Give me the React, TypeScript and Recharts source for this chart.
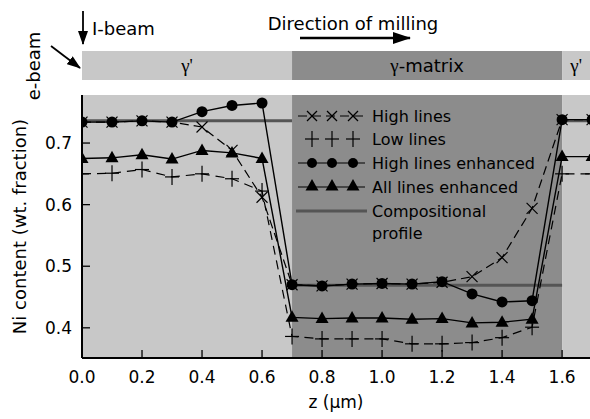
import React from "react";
import { ComposedChart, BarChart, Bar, Line, XAxis, YAxis, ReferenceArea, Legend } from "recharts";

// depth along milling direction (µm)
const zValues = [0, 0.1, 0.2, 0.3, 0.4, 0.5, 0.6, 0.7, 0.8, 0.9, 1.0, 1.1, 1.2, 1.3, 1.4, 1.5, 1.6, 1.7];

// Ni content (wt. fraction)
const highLines = [0.734, 0.734, 0.736, 0.734, 0.726, 0.688, 0.612, 0.47, 0.468, 0.471, 0.472, 0.471, 0.474, 0.483, 0.514, 0.594, 0.738, 0.738];
const lowLines = [0.65, 0.651, 0.657, 0.645, 0.65, 0.642, 0.622, 0.386, 0.382, 0.382, 0.382, 0.374, 0.374, 0.376, 0.384, 0.401, 0.65, 0.65];
const highEnhanced = [0.734, 0.734, 0.736, 0.734, 0.751, 0.761, 0.765, 0.47, 0.468, 0.471, 0.472, 0.471, 0.475, 0.455, 0.442, 0.444, 0.738, 0.738];
const allEnhanced = [0.675, 0.676, 0.681, 0.674, 0.688, 0.684, 0.675, 0.417, 0.415, 0.416, 0.416, 0.414, 0.415, 0.408, 0.409, 0.414, 0.678, 0.678];

// compositional profile: three flat segments (nulls break the line)
const profileZ = [0, 0.7, 0.7, 0.7, 1.6, 1.6, 1.6, 1.7];
const profileNi = [0.736, 0.736, null, 0.469, 0.469, null, 0.736, 0.736];

// phases along z
const phaseStart = [0, 0.7, 1.6];
const phaseEnd = [0.7, 1.6, 1.7];
const phaseLabels = ["γ'", "γ-matrix", "γ'"];
const phaseFills = ["#c8c8c8", "#8c8c8c", "#c8c8c8"];

const xTicks = [0, 0.2, 0.4, 0.6, 0.8, 1.0, 1.2, 1.4, 1.6];
const yTicks = [0.4, 0.5, 0.6, 0.7];

const X_DOMAIN: [number, number] = [0, 1.693];
const FONT = "'DejaVu Sans', Verdana, sans-serif";
const SERIF = "'Liberation Serif', 'DejaVu Serif', serif";

const toRows = (ys: number[]) => zValues.map((z, i) => ({ z, ni: ys[i] }));

const phaseRow: Record<string, any> = { band: "phase" };
phaseLabels.forEach((_, i) => {
  phaseRow["p" + i] = phaseEnd[i] - phaseStart[i];
});

const XMark = ({ cx, cy, s = 5.5 }: any) => (
  <g stroke="#000" strokeWidth={1.2}>
    <line x1={cx - s} y1={cy - s} x2={cx + s} y2={cy + s} />
    <line x1={cx - s} y1={cy + s} x2={cx + s} y2={cy - s} />
  </g>
);

const PlusMark = ({ cx, cy }: any) => (
  <g stroke="#000" strokeWidth={1.2}>
    <line x1={cx - 7} y1={cy} x2={cx + 7} y2={cy} />
    <line x1={cx} y1={cy - 8} x2={cx} y2={cy + 8} />
  </g>
);

const Triangle = ({ cx, cy }: any) => (
  <polygon points={`${cx},${cy - 7} ${cx - 6.5},${cy + 4.5} ${cx + 6.5},${cy + 4.5}`} fill="#000" />
);

const dotX = (p: any) => (p.cx == null ? <g key={p.index} /> : <XMark key={p.index} cx={p.cx} cy={p.cy} />);
const dotPlus = (p: any) => (p.cx == null ? <g key={p.index} /> : <PlusMark key={p.index} cx={p.cx} cy={p.cy} />);
const dotTri = (p: any) => (p.cx == null ? <g key={p.index} /> : <Triangle key={p.index} cx={p.cx} cy={p.cy} />);
const dotCircle = (p: any) => <circle key={p.index} cx={p.cx} cy={p.cy} r={5.5} fill="#000" />;

function LegendBox() {
  const rows = [116, 139, 163, 187];
  const marks = [312, 332, 353];
  return (
    <svg width={290} height={145} style={{ display: "block" }}>
      <g transform="translate(-294,-100)" fontFamily={FONT} fontSize={16} fill="#000">
        {/* High lines */}
        <line x1={298} x2={365} y1={rows[0]} y2={rows[0]} stroke="#000" strokeWidth={1.2} strokeDasharray="9 5" />
        {marks.map((m) => <XMark key={m} cx={m} cy={rows[0]} s={5} />)}
        <text x={372} y={rows[0] + 6}>High lines</text>
        {/* Low lines */}
        {marks.map((m) => <PlusMark key={m} cx={m} cy={rows[1]} />)}
        <text x={372} y={rows[1] + 6}>Low lines</text>
        {/* High lines enhanced */}
        <line x1={298} x2={365} y1={rows[2]} y2={rows[2]} stroke="#000" strokeWidth={1.2} />
        {marks.map((m) => <circle key={m} cx={m} cy={rows[2]} r={5} fill="#000" />)}
        <text x={372} y={rows[2] + 6}>High lines enhanced</text>
        {/* All lines enhanced */}
        <line x1={298} x2={365} y1={rows[3]} y2={rows[3]} stroke="#000" strokeWidth={1.2} />
        {marks.map((m) => <Triangle key={m} cx={m} cy={rows[3] - 1} />)}
        <text x={372} y={rows[3] + 6}>All lines enhanced</text>
        {/* Compositional profile */}
        <line x1={296} x2={367} y1={211} y2={211} stroke="#555" strokeWidth={3} />
        <text x={372} y={217}>Compositional</text>
        <text x={372} y={239}>profile</text>
      </g>
    </svg>
  );
}

const phaseLabel = (label: string) => (props: any) => {
  const { x, y, width, height } = props;
  const rest = label.slice(1);
  return (
    <text x={x + width / 2} y={y + height / 2 + 6} textAnchor="middle" fontSize={18} fill="#000">
      <tspan fontFamily={SERIF} fontSize={19}>γ</tspan>
      <tspan fontFamily={rest === "'" ? SERIF : FONT}>{rest}</tspan>
    </text>
  );
};

function Annotations() {
  return (
    <svg width={590} height={419} style={{ position: "absolute", left: 0, top: 0, pointerEvents: "none" }}>
      <defs>
        <marker id="head" viewBox="0 0 14 10" refX="13" refY="5" markerWidth="14" markerHeight="10" markerUnits="userSpaceOnUse" orient="auto">
          <path d="M0,0 L14,5 L0,10 Z" fill="#000" />
        </marker>
        <marker id="bighead" viewBox="0 0 18 12" refX="17" refY="6" markerWidth="18" markerHeight="12" markerUnits="userSpaceOnUse" orient="auto">
          <path d="M0,0 L18,6 L0,12 Z" fill="#000" />
        </marker>
      </defs>
      <g fontFamily={FONT} fontSize={18} fill="#000">
        <line x1={83} y1={11} x2={83} y2={44} stroke="#000" strokeWidth={1.8} markerEnd="url(#head)" />
        <text x={92} y={35}>I-beam</text>
        <line x1={51} y1={46} x2={80} y2={68} stroke="#000" strokeWidth={1.8} markerEnd="url(#head)" />
        <text transform="translate(40,66) rotate(-90)" textAnchor="middle">e-beam</text>
        <text x={353} y={30} textAnchor="middle">Direction of milling</text>
        <line x1={300} y1={38} x2={410} y2={38} stroke="#000" strokeWidth={2.5} markerEnd="url(#bighead)" />
      </g>
    </svg>
  );
}

export default function App() {
  return (
    <div style={{ position: "absolute", left: 0, top: 0, width: 590, height: 419, background: "#fff", fontFamily: FONT }}>
      <div style={{ position: "absolute", left: 0, top: 51 }}>
        <BarChart
          width={590}
          height={29}
          layout="vertical"
          data={[phaseRow]}
          barCategoryGap={0}
          margin={{ top: 0, right: 0, bottom: 0, left: 82 }}
        >
          <XAxis type="number" domain={X_DOMAIN} allowDataOverflow hide />
          <YAxis type="category" dataKey="band" hide />
          {phaseLabels.map((label, i) => (
            <Bar
              key={i}
              dataKey={"p" + i}
              stackId="phase"
              fill={phaseFills[i]}
              isAnimationActive={false}
              label={phaseLabel(label)}
            />
          ))}
        </BarChart>
      </div>
      <div style={{ position: "absolute", left: 0, top: 0 }}>
        <ComposedChart width={590} height={419} margin={{ top: 95, right: 0, bottom: 0, left: 0 }}>
          <XAxis
            type="number"
            dataKey="z"
            domain={X_DOMAIN}
            allowDataOverflow
            ticks={xTicks}
            tickFormatter={(v: number) => v.toFixed(1)}
            height={61}
            tickSize={-8}
            tickMargin={21}
            axisLine={{ stroke: "#000", strokeWidth: 2 }}
            tickLine={{ stroke: "#000", strokeWidth: 1.3 }}
            tick={{ fill: "#000", fontSize: 17, fontFamily: FONT }}
            label={{ value: "z (µm)", position: "insideBottom", offset: 11, fill: "#000", fontSize: 17, fontFamily: FONT }}
          />
          <YAxis
            type="number"
            domain={[0.351, 0.778]}
            allowDataOverflow
            ticks={yTicks}
            tickFormatter={(v: number) => v.toFixed(1)}
            width={82}
            tickSize={-8}
            tickMargin={18}
            axisLine={{ stroke: "#000", strokeWidth: 2 }}
            tickLine={{ stroke: "#000", strokeWidth: 1.3 }}
            tick={{ fill: "#000", fontSize: 17, fontFamily: FONT }}
            label={{ value: "Ni content (wt. fraction)", angle: -90, position: "insideLeft", offset: 20, fill: "#000", fontSize: 18, fontFamily: FONT, style: { textAnchor: "middle" } }}
          />
          {phaseLabels.map((label, i) => (
            <ReferenceArea
              key={label + i}
              x1={phaseStart[i]}
              x2={Math.min(phaseEnd[i], X_DOMAIN[1])}
              fill={phaseFills[i]}
              fillOpacity={1}
              stroke="none"
            />
          ))}
          <Line
            data={profileZ.map((z, i) => ({ z, ni: profileNi[i] }))}
            dataKey="ni"
            name="Compositional profile"
            stroke="#555"
            strokeWidth={3}
            dot={false}
            activeDot={false}
            connectNulls={false}
            isAnimationActive={false}
          />
          <Line data={toRows(lowLines)} dataKey="ni" name="Low lines" stroke="#000" strokeWidth={1.2} strokeDasharray="9 6" dot={dotPlus} activeDot={false} isAnimationActive={false} />
          <Line data={toRows(highLines)} dataKey="ni" name="High lines" stroke="#000" strokeWidth={1.2} strokeDasharray="9 5" dot={dotX} activeDot={false} isAnimationActive={false} />
          <Line data={toRows(allEnhanced)} dataKey="ni" name="All lines enhanced" stroke="#000" strokeWidth={1.4} dot={dotTri} activeDot={false} isAnimationActive={false} />
          <Line data={toRows(highEnhanced)} dataKey="ni" name="High lines enhanced" stroke="#000" strokeWidth={1.4} dot={dotCircle} activeDot={false} isAnimationActive={false} />
          <Legend
            layout="vertical"
            align="center"
            verticalAlign="middle"
            content={() => <LegendBox />}
            wrapperStyle={{ top: 100, left: 294, width: 290, height: 145 }}
          />
        </ComposedChart>
      </div>
      <Annotations />
    </div>
  );
}
